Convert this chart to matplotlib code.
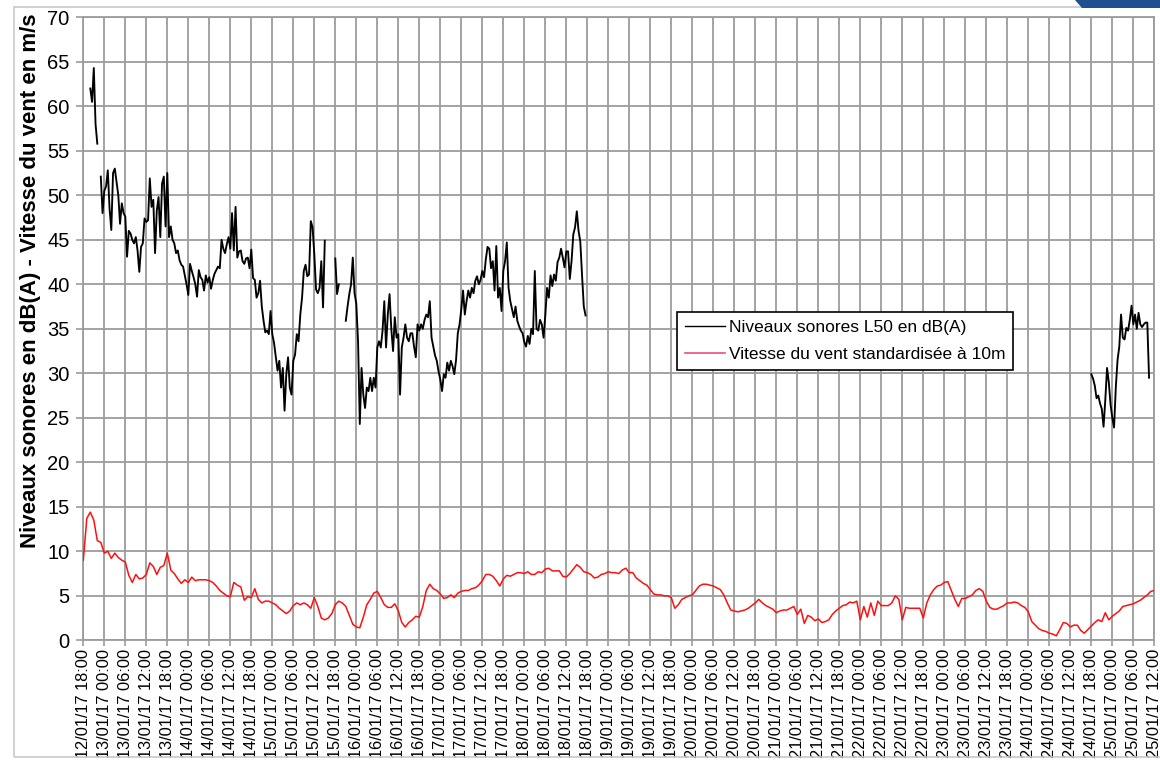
import numpy as np
import pandas as pd
import matplotlib
matplotlib.use('Agg')
import matplotlib.pyplot as plt
from matplotlib.patches import Rectangle, Polygon
from matplotlib.lines import Line2D

plt.rcParams['font.family'] = ['Liberation Sans', 'DejaVu Sans']

nan = np.nan

# x axis: hours from 12/01/17 18:00, ticks every 6 hours
tick_labels = list(pd.date_range('2017-01-12 18:00', '2017-01-25 12:00', freq='6h').strftime('%d/%m/%y %H:%M'))
tick_hours = list(range(0, 307, 6))

# Noise level L50 dB(A), half-hourly, starting at hour 0 (rows = 6 hours)
noise_main = [
    nan, nan, nan, nan, 62.0, 60.5, 64.3, 58.0, 55.8, nan, 52.1, 48.0,
    50.5, 51.0, 52.8, 48.5, 46.1, 52.5, 53.0, 51.5, 50.0, 46.8, 49.1, 48.0,
    47.6, 43.1, 46.0, 45.7, 45.0, 44.6, 45.3, 43.8, 41.4, 44.2, 44.6, 47.4,
    47.0, 47.2, 51.9, 48.7, 49.5, 43.5, 48.3, 49.8, 45.3, 51.3, 52.1, 46.5,
    52.5, 45.3, 46.5, 45.0, 44.6, 43.5, 43.8, 42.7, 42.2, 42.0, 41.0, 40.0,
    38.8, 42.3, 41.5, 40.8, 40.0, 38.6, 41.6, 40.8, 40.5, 39.3, 41.0, 40.2,
    40.8, 39.5, 40.5, 41.2, 41.6, 42.0, 41.8, 45.0, 44.0, 43.5, 44.5, 45.3,
    44.0, 48.0, 43.8, 48.7, 43.0, 43.7, 43.8, 42.6, 42.3, 42.9, 43.0, 41.8,
    43.9, 40.7, 40.5, 38.5, 39.0, 40.4, 37.5, 35.9, 34.6, 34.8, 34.4, 37.0,
    34.4, 33.4, 31.8, 30.3, 31.4, 28.4, 30.6, 25.8, 29.9, 31.8, 28.4, 27.6,
    31.4, 32.1, 34.4, 33.6, 36.6, 38.5, 41.5, 42.2, 40.9, 41.1, 47.1, 46.4,
    43.4, 39.4, 39.0, 39.6, 42.6, 37.4, 44.9, nan, nan, nan, nan, nan,
    42.9, 38.9, 40.0, nan, nan, nan, 35.9, 37.5, 38.9, 40.0, 43.0, 39.0,
    37.8, 33.6, 24.3, 30.6, 27.6, 26.1, 28.4, 28.0, 29.5, 28.0, 29.5, 28.4,
    32.9, 33.6, 32.9, 34.8, 38.1, 32.9, 36.6, 38.9, 35.0, 32.5, 36.3, 34.0,
    34.4, 27.6, 32.9, 34.0, 35.5, 34.0, 33.6, 34.5, 34.5, 33.0, 31.8, 35.5,
    34.8, 35.5, 35.0, 36.0, 36.6, 36.3, 38.1, 34.0, 33.0, 32.0, 31.4, 30.2,
    29.3, 28.0, 29.9, 29.5, 31.2, 30.3, 31.4, 30.8, 29.9, 31.5, 34.5, 35.5,
    37.2, 39.3, 36.6, 38.1, 39.3, 38.5, 39.6, 39.0, 40.4, 40.9, 40.0, 40.5,
    41.5, 40.8, 42.8, 44.2, 44.0, 41.8, 42.6, 39.3, 44.3, 38.5, 39.6, 37.0,
    41.5, 42.6, 44.7, 39.6, 38.1, 37.2, 36.3, 37.5, 35.9, 35.3, 34.8, 34.5,
    33.5, 33.0, 34.2, 33.3, 35.0, 34.4, 41.5, 35.0, 34.8, 36.0, 35.5, 34.0,
    36.5, 39.6, 38.5, 41.0, 39.8, 41.1, 40.4, 42.5, 43.0, 44.0, 43.0, 41.9,
    43.7, 43.7, 40.6, 42.6, 45.6, 46.4, 48.2, 46.0, 44.8, 41.0, 37.5, 36.5,
]
# Last noise segment, half-hourly, starting at hour 288
noise_end_start = 288.0
noise_end = [
    29.9, 29.4, 28.6, 27.2, 27.5, 26.6, 26.0, 24.0, 27.0, 30.6, 29.0, 26.5,
    25.0, 23.9, 28.4, 31.5, 33.0, 36.6, 34.0, 33.8, 35.1, 34.8, 36.0, 37.6,
    35.5, 36.6, 35.0, 36.8, 35.5, 35.2, 35.5, 35.7, 35.7, 29.5,
]

# Standardised wind speed at 10 m (m/s), hourly from hour 0
wind = [
    9.0, 13.7, 14.4, 13.5, 11.2, 11.0, 9.8, 10.0, 9.2, 9.8, 9.3, 9.0,
    8.8, 7.3, 6.5, 7.4, 6.9, 7.0, 7.4, 8.7, 8.3, 7.4, 8.2, 8.4,
    9.8, 7.9, 7.5, 6.9, 6.4, 6.8, 6.5, 7.1, 6.7, 6.8, 6.8, 6.8,
    6.7, 6.5, 6.1, 5.6, 5.3, 5.0, 4.9, 6.5, 6.2, 6.0, 4.5, 4.9,
    4.8, 5.8, 4.6, 4.2, 4.4, 4.4, 4.2, 4.0, 3.6, 3.3, 3.0, 3.3,
    3.9, 4.2, 4.0, 4.2, 4.0, 3.6, 4.8, 3.8, 2.5, 2.3, 2.5, 3.0,
    4.0, 4.4, 4.2, 3.8, 2.8, 1.8, 1.5, 1.4, 2.6, 4.0, 4.6, 5.3,
    5.5, 4.8, 4.0, 3.7, 3.7, 4.1, 3.3, 2.0, 1.5, 2.0, 2.3, 2.7,
    2.6, 3.8, 5.6, 6.3, 5.8, 5.6, 5.2, 4.7, 4.8, 5.1, 4.8, 5.3,
    5.5, 5.6, 5.6, 5.8, 5.9, 6.2, 6.7, 7.4, 7.4, 7.2, 6.7, 6.1,
    6.9, 7.3, 7.2, 7.4, 7.6, 7.6, 7.5, 7.7, 7.4, 7.4, 7.7, 7.6,
    8.0, 8.1, 7.8, 7.8, 7.8, 7.2, 7.1, 7.5, 8.0, 8.5, 8.2, 7.7,
    7.6, 7.4, 7.0, 7.1, 7.4, 7.5, 7.7, 7.6, 7.6, 7.5, 7.9, 8.1,
    7.6, 7.6, 7.0, 6.7, 6.4, 6.2, 5.7, 5.2, 5.1, 5.1, 5.0, 5.0,
    4.8, 3.6, 4.0, 4.6, 4.8, 5.0, 5.1, 5.6, 6.1, 6.3, 6.3, 6.2,
    6.1, 5.9, 5.7, 5.1, 4.2, 3.4, 3.3, 3.2, 3.3, 3.4, 3.6, 3.9,
    4.2, 4.6, 4.2, 3.9, 3.7, 3.5, 3.1, 3.3, 3.4, 3.4, 3.6, 3.8,
    2.9, 3.5, 1.9, 2.8, 2.6, 2.2, 2.4, 2.0, 2.1, 2.3, 2.9, 3.3,
    3.6, 3.9, 4.0, 4.3, 4.2, 4.4, 2.3, 3.8, 2.6, 4.2, 2.8, 4.4,
    3.9, 3.9, 3.9, 4.2, 5.0, 4.6, 2.3, 3.7, 3.6, 3.6, 3.6, 3.6,
    2.5, 4.2, 5.1, 5.7, 6.1, 6.2, 6.5, 6.6, 5.6, 4.6, 3.8, 4.7,
    4.7, 4.9, 5.1, 5.6, 5.8, 5.5, 4.4, 3.7, 3.5, 3.5, 3.7, 3.9,
    4.2, 4.2, 4.3, 4.2, 3.9, 3.7, 3.2, 2.1, 1.7, 1.3, 1.1, 1.0,
    0.8, 0.7, 0.5, 1.2, 2.0, 1.9, 1.5, 1.7, 1.7, 1.1, 0.8, 1.2,
    1.6, 2.0, 2.3, 2.1, 3.1, 2.3, 2.7, 3.0, 3.3, 3.8, 3.9, 4.0,
    4.1, 4.3, 4.5, 4.8, 5.1, 5.5, 5.6,
]

label_noise = "Niveaux sonores L50 en dB(A)"
label_wind = "Vitesse du vent standardisée à 10m"
y_label = "Niveaux sonores en dB(A) - Vitesse du vent en m/s"

W, H = 1160, 760
fig = plt.figure(figsize=(W / 100, H / 100), dpi=100)
fig.patch.set_facecolor('white')

# outer frame and decoration
fig.patches.append(Rectangle((14 / W, 1 - 757 / H), 1.2, (757 - 7) / H,
                             transform=fig.transFigure, fill=False,
                             edgecolor='#c8c8c8', linewidth=1.2))
fig.patches.append(Polygon([(1075 / W, 1.0), (1160 / W, 1.0), (1160 / W, 1 - 8 / H), (1082 / W, 1 - 8 / H)],
                           closed=True, transform=fig.transFigure,
                           facecolor='#1f4f91', edgecolor='none'))

ax = fig.add_axes([83.3 / W, 1 - 640.3 / H, (1154.3 - 83.3) / W, (640.3 - 17.3) / H])
grid_color = '#9c9c9c'

x_main = np.arange(len(noise_main)) * 0.5
x_end = noise_end_start + np.arange(len(noise_end)) * 0.5
x_wind = np.arange(len(wind)) * 1.0

ax.plot(x_main, noise_main, color='black', linewidth=1.35, zorder=3)
ax.plot(x_end, noise_end, color='black', linewidth=1.35, zorder=3)
ax.plot(x_wind, wind, color='#ff1010', linewidth=1.1, zorder=3)

ax.set_xlim(0, 306)
ax.set_ylim(0, 70)
ax.set_xticks(tick_hours)
ax.set_xticklabels(tick_labels, rotation=90, fontsize=11.8)
ax.set_yticks(range(0, 71, 5))
ax.tick_params(axis='y', labelsize=14.5, length=5, width=1.2, color=grid_color, pad=5)
ax.tick_params(axis='x', length=4, width=1.2, color=grid_color, pad=2)
ax.grid(True, color=grid_color, linewidth=1.3)
ax.set_axisbelow(True)
for s in ax.spines.values():
    s.set_color(grid_color)
    s.set_linewidth(1.3)

handles = [Line2D([], [], color='black', linewidth=1.0),
           Line2D([], [], color='#e8507a', linewidth=1.2)]
leg = ax.legend(handles, [label_noise, label_wind], loc='upper left',
                bbox_to_anchor=((677 - 83.3) / 1071, (640.3 - 312) / 623),
                frameon=True, fancybox=False, edgecolor='black', framealpha=1,
                fontsize=12.5, handlelength=2.3, handletextpad=0.25,
                borderpad=0.45, labelspacing=0.7, borderaxespad=0)
leg.get_frame().set_linewidth(1.2)
leg.set_zorder(5)

fig.text(31 / W, 1 - 281 / H, y_label, rotation=90, fontsize=16, fontweight='bold',
         ha='center', va='center')

fig.savefig('out.png', dpi=100, facecolor='white')
